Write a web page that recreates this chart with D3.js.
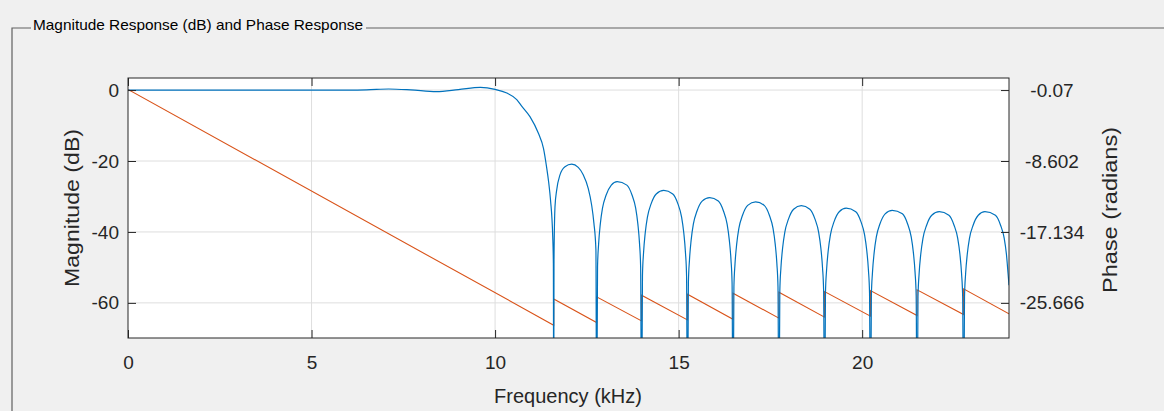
<!DOCTYPE html>
<html>
<head>
<meta charset="utf-8">
<script src="https://cdn.jsdelivr.net/npm/d3@7"></script>
<style>
  html, body { margin: 0; padding: 0; background: #f0f0f0; }
  svg { display: block; font-family: "Liberation Sans", Arial, sans-serif; }
</style>
</head>
<body>
<svg id="chart" width="1164" height="411"></svg>
<script>
// ---- data ----
const freqTicks = [0, 5, 10, 15, 20];
const magTicks = [0, -20, -40, -60];
const phaseTicks = [-0.07, -8.602, -17.134, -25.666];

// magnitude (dB) vs frequency (kHz); -100 marks a null (below the axis floor)
const magKHz = [
  0, 1, 2, 3, 4, 5, 6, 6.5, 7.1, 7.7, 8.4, 9.0, 9.6, 10.0, 10.32, 10.59, 10.73,
  10.95, 11.18, 11.32, 11.40, 11.46, 11.51, 11.57, 11.588, 11.597,
  11.605, 11.632, 11.678, 11.768, 11.904, 12.086, 12.265, 12.401, 12.537, 12.630, 12.692, 12.747, 12.766,
  12.791, 12.821, 12.866, 12.926, 13.026, 13.166, 13.326, 13.590, 13.730, 13.830, 13.890, 13.935, 13.965, 13.990,
  14.015, 14.045, 14.090, 14.150, 14.250, 14.390, 14.596, 14.841, 14.981, 15.081, 15.141, 15.186, 15.216, 15.241,
  15.266, 15.296, 15.341, 15.401, 15.501, 15.641, 15.847, 16.081, 16.221, 16.321, 16.381, 16.426, 16.456, 16.481,
  16.506, 16.536, 16.581, 16.641, 16.741, 16.881, 17.098, 17.332, 17.472, 17.572, 17.632, 17.677, 17.707, 17.732,
  17.757, 17.787, 17.832, 17.892, 17.992, 18.132, 18.341, 18.575, 18.715, 18.815, 18.875, 18.920, 18.950, 18.975,
  19.000, 19.030, 19.075, 19.135, 19.235, 19.375, 19.565, 19.826, 19.966, 20.066, 20.126, 20.171, 20.201, 20.226,
  20.251, 20.281, 20.326, 20.386, 20.486, 20.626, 20.820, 21.096, 21.236, 21.336, 21.396, 21.441, 21.471, 21.496,
  21.521, 21.551, 21.596, 21.656, 21.756, 21.896, 22.101, 22.363, 22.503, 22.603, 22.663, 22.708, 22.738, 22.763,
  22.788, 22.818, 22.863, 22.923, 23.023, 23.163, 23.345, 23.630, 23.770, 23.870, 23.930, 23.975, 24.000
];
const magDB = [
  0, 0, 0, 0, 0, 0, 0, 0.05, 0.3, 0.05, -0.45, 0.1, 0.75, 0.2, -0.85, -2.7, -4.6,
  -7.5, -12.2, -16.5, -21.5, -26, -31, -41.3, -49, -100,
  -48, -32.9, -28.2, -23.9, -21.6, -20.9, -21.8, -23.9, -27.7, -32.4, -37.5, -45.1, -100,
  -49.8, -43.3, -37.8, -33.3, -29.6, -26.8, -25.8, -26.8, -29.6, -33.3, -37.8, -43.3, -49.8, -100,
  -52.3, -45.8, -40.3, -35.8, -32.1, -29.3, -28.3, -29.3, -32.1, -35.8, -40.3, -45.8, -52.3, -100,
  -54.3, -47.8, -42.3, -37.8, -34.1, -31.3, -30.3, -31.3, -34.1, -37.8, -42.3, -47.8, -54.3, -100,
  -55.5, -49.0, -43.5, -39.0, -35.3, -32.5, -31.5, -32.5, -35.3, -39.0, -43.5, -49.0, -55.5, -100,
  -56.6, -50.1, -44.6, -40.1, -36.4, -33.6, -32.6, -33.6, -36.4, -40.1, -44.6, -50.1, -56.6, -100,
  -57.3, -50.8, -45.3, -40.8, -37.1, -34.3, -33.3, -34.3, -37.1, -40.8, -45.3, -50.8, -57.3, -100,
  -57.9, -51.4, -45.9, -41.4, -37.7, -34.9, -33.9, -34.9, -37.7, -41.4, -45.9, -51.4, -57.9, -100,
  -58.3, -51.8, -46.3, -41.8, -38.1, -35.3, -34.3, -35.3, -38.1, -41.8, -46.3, -51.8, -58.3, -100,
  -58.3, -51.8, -46.3, -41.8, -38.1, -35.3, -34.3, -35.3, -38.1, -41.8, -46.3, -51.8, -55.0
];

// phase (radians) vs frequency (kHz), jumps of pi at the stopband nulls
const phaseKHz = [0, 11.597, 11.597, 12.766, 12.766, 13.990, 13.990, 15.241, 15.241, 16.481, 16.481,
  17.732, 17.732, 18.975, 18.975, 20.226, 20.226, 21.496, 21.496, 22.763, 22.763, 24];
const phaseRad = [0, -28.35, -25.19, -28.03, -24.94, -27.83, -24.74, -27.71, -24.62, -27.63, -24.50,
  -27.50, -24.38, -27.38, -24.31, -27.26, -24.19, -27.19, -24.10, -27.07, -23.98, -26.99];

// ---- layout ----
const L = 128, R = 1009, T = 78, B = 338;
const svg = d3.select("#chart");

const x = d3.scaleLinear([0, 24], [L, R]);
const yMag = d3.scaleLinear([-69.9, 3.4], [B, T]);
const yPh = d3.scaleLinear([-29.89, 1.38], [B, T]);

// group box frame + title
svg.append("path")
  .attr("d", "M12,411V28H31M366,28H1164")
  .attr("fill", "none").attr("stroke", "#606060").attr("stroke-width", 1.2);
svg.append("text")
  .attr("x", 33).attr("y", 30)
  .attr("font-size", 15).attr("fill", "#000")
  .attr("textLength", 330).attr("lengthAdjust", "spacingAndGlyphs")
  .text("Magnitude Response (dB) and Phase Response");

// plot area
svg.append("rect").attr("x", L).attr("y", T).attr("width", R - L).attr("height", B - T)
  .attr("fill", "#fff");

svg.append("defs").append("clipPath").attr("id", "clip")
  .append("rect").attr("x", L).attr("y", T).attr("width", R - L).attr("height", B - T);

// grid
const grid = svg.append("g").attr("stroke", "#dedede").attr("stroke-width", 1);
grid.selectAll(".gx").data(freqTicks.filter(d => d > 0)).join("line")
  .attr("x1", d => x(d)).attr("x2", d => x(d)).attr("y1", T).attr("y2", B);
grid.selectAll(".gy").data(magTicks).join("line")
  .attr("y1", d => yMag(d)).attr("y2", d => yMag(d)).attr("x1", L).attr("x2", R);

// lines
const plot = svg.append("g").attr("clip-path", "url(#clip)");
plot.append("path")
  .datum(d3.zip(phaseKHz, phaseRad))
  .attr("fill", "none").attr("stroke", "#D95319").attr("stroke-width", 1.1)
  .attr("d", d3.line().x(d => x(d[0])).y(d => yPh(d[1])));
plot.append("path")
  .datum(d3.zip(magKHz, magDB))
  .attr("fill", "none").attr("stroke", "#0072BD").attr("stroke-width", 1.2)
  .attr("d", d3.line().curve(d3.curveMonotoneX).x(d => x(d[0])).y(d => yMag(d[1])));

// axes
const fmt = d => String(d);
const axisStyle = g => {
  g.select(".domain").remove();
  g.selectAll(".tick line").attr("stroke", "#262626");
  g.selectAll(".tick text").attr("fill", "#262626").attr("font-size", 19)
    .attr("font-family", '"Liberation Sans", Arial, sans-serif');
};

svg.append("g").attr("transform", `translate(${L},0)`)
  .call(d3.axisLeft(yMag).tickValues(magTicks).tickFormat(fmt).tickSizeInner(-8).tickPadding(9))
  .call(axisStyle);

svg.append("g").attr("transform", `translate(${R},0)`)
  .call(d3.axisRight(yPh).tickValues(phaseTicks).tickFormat(fmt).tickSizeInner(-8).tickPadding(43))
  .call(axisStyle)
  .call(g => g.selectAll(".tick text").attr("text-anchor", "middle"));

svg.append("g").attr("transform", `translate(0,${B})`)
  .call(d3.axisBottom(x).tickValues(freqTicks).tickFormat(fmt).tickSizeInner(-8).tickPadding(18))
  .call(axisStyle);

svg.append("g").attr("transform", `translate(0,${T})`)
  .call(d3.axisTop(x).tickValues(freqTicks).tickFormat("").tickSizeInner(-8))
  .call(axisStyle);

// box
svg.append("rect").attr("x", L).attr("y", T).attr("width", R - L).attr("height", B - T)
  .attr("fill", "none").attr("stroke", "#262626").attr("stroke-width", 1);

// axis labels
svg.append("text")
  .attr("x", 568).attr("y", 403).attr("text-anchor", "middle")
  .attr("font-size", 20).attr("fill", "#262626")
  .text("Frequency (kHz)");

svg.append("text")
  .attr("transform", "translate(79,208) rotate(-90)")
  .attr("text-anchor", "middle").attr("font-size", 20).attr("fill", "#262626")
  .attr("textLength", 158).attr("lengthAdjust", "spacingAndGlyphs")
  .text("Magnitude (dB)");

svg.append("text")
  .attr("transform", "translate(1117,210) rotate(-90)")
  .attr("text-anchor", "middle").attr("font-size", 20).attr("fill", "#262626")
  .attr("textLength", 166).attr("lengthAdjust", "spacingAndGlyphs")
  .text("Phase (radians)");
</script>
</body>
</html>
